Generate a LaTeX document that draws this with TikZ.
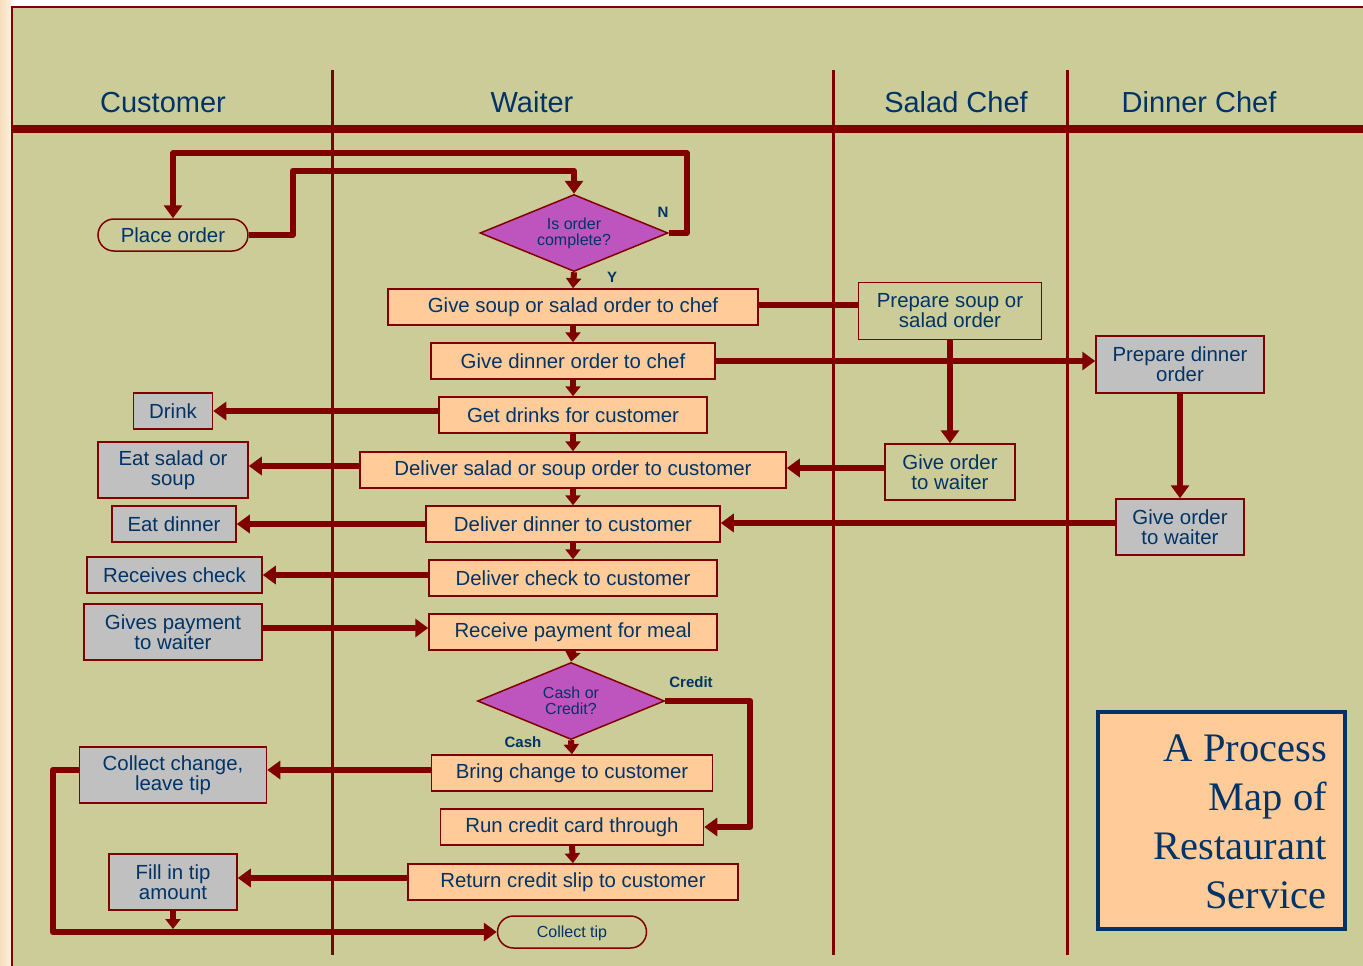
\documentclass[tikz,border=0pt]{standalone}
\usepackage{fontspec}
\setmainfont{Liberation Sans}
\newfontfamily\titlefont{Liberation Serif}
\usetikzlibrary{arrows.meta,shapes.geometric,shapes.misc}
\definecolor{bgc}{RGB}{204,204,153}
\definecolor{dred}{RGB}{128,0,0}
\definecolor{navy}{RGB}{0,51,102}
\definecolor{peach}{RGB}{255,204,153}
\definecolor{greyb}{RGB}{192,192,192}
\definecolor{purp}{RGB}{190,85,190}
\definecolor{strip}{RGB}{246,222,186}
\tikzset{
  box/.style={draw=dred, line width=1.5pt, text=navy, font=\fontsize{20.4}{20}\selectfont, align=center, inner sep=0pt, minimum height=36pt},
  wbox/.style={box, fill=peach},
  cbox/.style={box, fill=greyb},
  sbox/.style={box, fill=bgc},
  term/.style={rounded rectangle, draw=dred, line width=1.5pt, fill=bgc, text=navy, inner sep=0pt},
  dec/.style={diamond, aspect=2.44, draw=dred, line width=1.5pt, fill=purp, text=navy, inner sep=0pt, align=center, font=\fontsize{16}{16}\selectfont},
  lab/.style={text=navy, font=\bfseries\fontsize{15}{15}\selectfont, inner sep=0pt},
  head/.style={text=navy, font=\fontsize{29}{29}\selectfont, inner sep=0pt, anchor=base},
  lane/.style={dred, line width=3pt},
  conn/.style={dred, line width=6pt, line join=round},
  arr/.style={conn, -{Triangle[width=18pt,length=13pt]}},
  sarr/.style={conn, -{Triangle[width=15pt,length=10pt]}}
}
\begin{document}
\begin{tikzpicture}[x=1pt,y=-1pt]
\useasboundingbox (0,0) rectangle (1363,966);
% page background
\fill[white] (0,0) rectangle (1363,966);
\shade[left color=strip, right color=strip!40!white] (0,0) rectangle (12,966);
\fill[bgc] (12,7) rectangle (1363,966);
\draw[dred, line width=2pt] (12,966) -- (12,7) -- (1363,7);
% lanes
\draw[lane] (332,70) -- (332,955);
\draw[lane] (833,70) -- (833,955);
\draw[lane] (1067,70) -- (1067,955);
\draw[dred, line width=8pt] (12,129) -- (1363,129);
\node[head] (hcust) at (163,112) {Customer};
\node[head] (hwait) at (532,112) {Waiter};
\node[head] (hsal) at (956,112) {Salad Chef};
\node[head] (hdin) at (1199,112) {Dinner Chef};
% waiter column
\node[dec, minimum width=188pt, minimum height=77pt] (dec1) at (574,233) {Is order\\complete?};
\node[wbox, minimum width=370pt] (g1) at (573,307) {Give soup or salad order to chef};
\node[wbox, minimum width=284pt] (g2) at (573,361) {Give dinner order to chef};
\node[wbox, minimum width=268pt] (g3) at (573,415) {Get drinks for customer};
\node[wbox, minimum width=426pt] (g4) at (573,470) {Deliver salad or soup order to customer};
\node[wbox, minimum width=294pt] (g5) at (573,524) {Deliver dinner to customer};
\node[wbox, minimum width=288pt] (g6) at (573,578) {Deliver check to customer};
\node[wbox, minimum width=288pt] (g7) at (573,632) {Receive payment for meal};
\node[dec, minimum width=187pt, minimum height=77pt] (dec2) at (571,701) {Cash or\\Credit?};
\node[wbox, minimum width=281pt] (g8) at (572,773) {Bring change to customer};
\node[wbox, minimum width=263pt] (g9) at (572,827) {Run credit card through};
\node[wbox, minimum width=330pt] (g10) at (573,882) {Return credit slip to customer};
\node[term, minimum width=149pt, minimum height=32pt, font=\fontsize{16}{16}\selectfont, text depth=-3pt] (ctip) at (572,932) {Collect tip};
% customer column
\node[term, minimum width=150pt, minimum height=32pt, font=\fontsize{20.4}{20}\selectfont] (place) at (173,235) {Place order};
\node[cbox, minimum width=79pt] (c1) at (173,411) {Drink};
\node[cbox, minimum width=150pt, minimum height=56pt] (c2) at (173,470) {Eat salad or\\soup};
\node[cbox, minimum width=124pt] (c3) at (174,524) {Eat dinner};
\node[cbox, minimum width=175pt] (c4) at (174.5,575) {Receives check};
\node[cbox, minimum width=178pt, minimum height=56pt] (c5) at (173,632) {Gives payment\\to waiter};
\node[cbox, minimum width=187pt, minimum height=56pt] (c6) at (173,775) {Collect change,\\leave tip};
\node[cbox, minimum width=128pt, minimum height=56pt] (c7) at (173,882) {Fill in tip\\amount};
% salad chef
\node[sbox, minimum width=183pt, minimum height=57pt] (s1) at (950,311) {Prepare soup or\\salad order};
\node[sbox, minimum width=130pt, minimum height=56pt] (s2) at (950,472) {Give order\\to waiter};
% dinner chef
\node[cbox, minimum width=168pt, minimum height=57pt] (d1) at (1180,364.5) {Prepare dinner\\order};
\node[cbox, minimum width=128pt, minimum height=56pt] (d2) at (1180,527) {Give order\\to waiter};
% title
\node[draw=navy, line width=4pt, fill=peach, minimum width=247pt, minimum height=217pt, inner sep=0pt] (title) at (1221,820) {};
\node[anchor=east, align=right, text=navy, font=\titlefont\fontsize{40.5}{49}\selectfont, inner sep=0pt] (titletext) at (1327,822) {A Process\\Map of\\Restaurant\\Service};
% labels
\node[lab] (lN) at (663,212) {N};
\node[lab] (lY) at (612,277) {Y};
\node[lab] (lcredit) at (691,682) {Credit};
\node[lab] (lcash) at (523,742) {Cash};
% connectors
\draw[arr] (place.east) -- ++(44,0) |- ([yshift=23pt]dec1.north) -- (dec1.north);
\draw[arr] (dec1.east) -- ++(18,0) |- ([yshift=65pt]place.north) -- (place.north);
\draw[sarr] (dec1.south) -- (g1.north);
\draw[sarr] (g1.south) -- (g2.north);
\draw[sarr] (g2.south) -- (g3.north);
\draw[sarr] (g3.south) -- (g4.north);
\draw[sarr] (g4.south) -- (g5.north);
\draw[sarr] (g5.south) -- (g6.north);
\draw[sarr] (g7.south) -- (dec2.north);
\draw[sarr] (dec2.south) -- (g8.north);
\draw[sarr] (g9.south) -- (g10.north);
\draw[conn] ([yshift=2pt]g1.east) -- ([yshift=2pt]g1.east -| s1.west);
\draw[arr] (g2.east) -- (g2.east -| d1.west);
\draw[arr] (s1.south) -- (s2.north);
\draw[arr] (d1.south) -- (d2.north);
\draw[arr] ([yshift=4pt]s2.west) -- ([yshift=4pt]s2.west -| g4.east);
\draw[arr] ([yshift=4pt]d2.west) -- ([yshift=4pt]d2.west -| g5.east);
\draw[arr] (g3.west |- c1.east) -- (c1.east);
\draw[arr] ([yshift=4pt]g4.west) -- ([yshift=4pt]g4.west -| c2.east);
\draw[arr] (g5.west |- c3.east) -- (c3.east);
\draw[arr] (g6.west |- c4.east) -- (c4.east);
\draw[arr] ([yshift=4pt]c5.east) -- ([yshift=4pt]c5.east -| g7.west);
\draw[arr] (dec2.east) -| ([xshift=46pt]g9.east) -- (g9.east);
\draw[arr] ([yshift=3pt]g8.west) -- ([yshift=3pt]g8.west -| c6.east);
\draw[arr] ([yshift=4pt]g10.west) -- ([yshift=4pt]g10.west -| c7.east);
\draw[arr] ([yshift=5pt]c6.west) -- ++(-26,0) |- (ctip.west);
\draw[sarr] (c7.south) -- ([yshift=3pt]c7.south |- ctip.west);
\end{tikzpicture}
\end{document}
